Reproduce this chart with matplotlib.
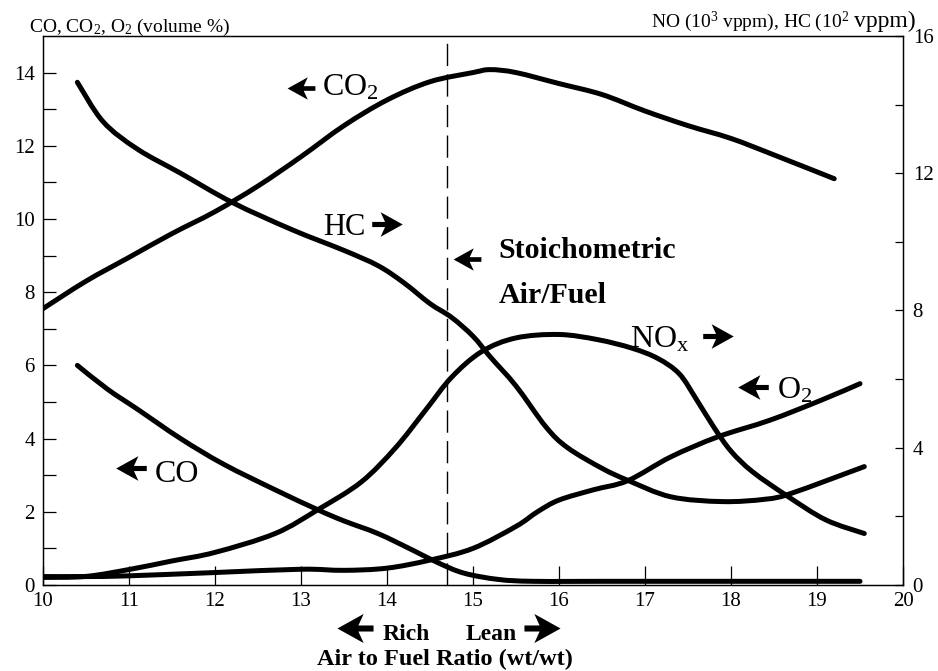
import numpy as np
import matplotlib.pyplot as plt
from matplotlib.path import Path
from matplotlib.patches import PathPatch

plt.rcParams['font.family'] = ['Liberation Serif', 'DejaVu Serif']
plt.rcParams['mathtext.fontset'] = 'custom'
plt.rcParams['mathtext.rm'] = 'Liberation Serif'
plt.rcParams['mathtext.it'] = 'Liberation Serif:italic'
plt.rcParams['mathtext.bf'] = 'Liberation Serif:bold'

# air/fuel ratio vs exhaust composition (left axis: volume %, right axis: vppm)
co2_x = [10.0, 10.5, 11.0, 11.5, 12.0, 12.5, 13.0, 13.5, 14.0, 14.5, 15.0, 15.2, 15.5,
         16.0, 16.5, 17.0, 17.5, 18.0, 18.5, 19.2]
co2_y = [7.55, 8.3, 8.95, 9.6, 10.2, 10.9, 11.7, 12.55, 13.25, 13.75, 14.0, 14.08, 14.0,
         13.7, 13.4, 12.95, 12.55, 12.2, 11.75, 11.1]

co_x = [10.4, 10.75, 11.1, 11.6, 12.1, 12.7, 13.2, 13.5, 13.9, 14.3, 14.6, 14.9, 15.3,
        15.7, 16.5, 19.5]
co_y = [6.0, 5.35, 4.8, 4.0, 3.3, 2.6, 2.05, 1.75, 1.4, 0.95, 0.6, 0.32, 0.15,
        0.1, 0.1, 0.1]

o2_x = [10.0, 10.5, 11.0, 12.0, 13.0, 13.5, 14.0, 14.5, 15.0, 15.5, 15.75, 16.0, 16.4,
        16.8, 17.3, 17.85, 18.45, 19.05, 19.5]
o2_y = [0.23, 0.23, 0.25, 0.34, 0.43, 0.4, 0.46, 0.68, 1.0, 1.6, 2.0, 2.32, 2.6,
        2.85, 3.5, 4.05, 4.5, 5.05, 5.5]

hc_x = [10.4, 10.7, 11.1, 11.6, 12.2, 12.9, 13.5, 13.9, 14.2, 14.5, 14.75, 15.0, 15.2,
        15.5, 15.85, 16.1, 16.5, 16.8, 17.3, 17.9, 18.4, 18.7, 19.55]
hc_y = [14.65, 13.5, 12.7, 12.0, 11.15, 10.35, 9.75, 9.3, 8.8, 8.2, 7.8, 7.25, 6.65,
        5.8, 4.6, 4.0, 3.4, 3.05, 2.57, 2.43, 2.5, 2.67, 3.45]

nox_x = [10.0, 10.5, 11.0, 11.5, 12.0, 12.7, 13.2, 13.7, 14.1, 14.45, 14.75, 15.1, 15.5,
         16.0, 16.45, 16.85, 17.15, 17.4, 17.6, 17.8, 18.0, 18.25, 18.65, 19.1, 19.55]
nox_y = [0.22, 0.25, 0.45, 0.7, 0.95, 1.5, 2.2, 3.0, 4.0, 5.1, 6.05, 6.8, 7.2,
         7.3, 7.15, 6.9, 6.6, 6.15, 5.4, 4.6, 3.9, 3.3, 2.6, 1.9, 1.5]

stoich = 14.7
x_ticks = list(range(10, 21))
left_ticks = [0, 2, 4, 6, 8, 10, 12, 14]
right_ticks = [0, 4, 8, 12, 16]


def smooth_path(xs, ys):
    # Catmull-Rom spline turned into cubic Bezier segments
    p = np.column_stack([xs, ys]).astype(float)
    p = np.vstack([p[0], p, p[-1]])
    verts = [p[1]]
    codes = [Path.MOVETO]
    for i in range(1, len(p) - 2):
        c1 = p[i] + (p[i + 1] - p[i - 1]) / 6.0
        c2 = p[i + 1] - (p[i + 2] - p[i]) / 6.0
        verts += [c1, c2, p[i + 1]]
        codes += [Path.CURVE4] * 3
    return Path(verts, codes)


def curve(ax, xs, ys):
    ax.add_patch(PathPatch(smooth_path(xs, ys), fill=False, lw=3.6, edgecolor='black',
                           capstyle='round', joinstyle='round', zorder=3))


# notched arrow head shape, pointing right
_arrow = np.array([(15.5, 0), (-7, 12.5), (-2.5, 2.6), (-15.5, 2.6), (-15.5, -2.6),
                   (-2.5, -2.6), (-7, -12.5), (15.5, 0)])
ARROW_R = Path(_arrow, [Path.MOVETO] + [Path.LINETO] * 6 + [Path.CLOSEPOLY])
ARROW_L = Path(_arrow * [-1, 1], [Path.MOVETO] + [Path.LINETO] * 6 + [Path.CLOSEPOLY])


def arrow(ax, x, y, direction, size=22):
    ax.plot([x], [y], marker=ARROW_R if direction == 'right' else ARROW_L, ms=size,
            color='black', mew=0, clip_on=False, zorder=4)


fig = plt.figure(figsize=(9.38, 6.71), dpi=100)
ax = fig.add_axes([0.0458, 0.1282, 0.9169, 0.8182])
ax2 = ax.twinx()

ax.set_xlim(10, 20)
ax.set_ylim(0, 15)
ax2.set_ylim(0, 16)

curve(ax, co2_x, co2_y)
curve(ax, co_x, co_y)
curve(ax, o2_x, o2_y)
curve(ax2, hc_x, hc_y)
curve(ax2, nox_x, nox_y)

ax.axvline(stoich, color='black', lw=1, dashes=(16, 6))

ax.set_xticks(x_ticks)
ax.set_xticklabels([str(t) for t in x_ticks])
ax.set_yticks(left_ticks)
ax.set_yticks(range(0, 15), minor=True)
ax2.set_yticks(right_ticks)
ax2.set_yticks(range(0, 17, 2), minor=True)

ax.tick_params(axis='x', direction='in', length=14, width=0.9, labelsize=15, pad=5)
ax.tick_params(axis='y', which='both', direction='in', length=9, width=0.9,
               labelsize=15, pad=6)
ax2.tick_params(axis='y', which='both', direction='in', length=6, width=0.9,
                labelsize=15, pad=7)
ax.tick_params(axis='x', which='minor', bottom=False)
for a in (ax, ax2):
    for s in a.spines.values():
        s.set_linewidth(0.9)

# axis titles
ax.text(9.84, 15.12, 'CO, CO$_2$, O$_2$ (volume %)', fontsize=14, ha='left',
        va='baseline', clip_on=False)
t_unit = ax.text(20.15, 15.25, 'vppm)', fontsize=17, ha='right', va='baseline',
                 clip_on=False)
fig.canvas.draw()
x_join = ax.transData.inverted().transform((t_unit.get_window_extent().x0 - 5, 0))[0]
ax.text(x_join, 15.25, 'NO (10$^3$ vppm), HC (10$^2$', fontsize=14, ha='right',
        va='baseline', clip_on=False)

# curve labels
ax.text(13.25, 13.36, 'CO$_2$', fontsize=23, va='baseline')
arrow(ax, 13.0, 13.58, 'left', 20)
ax.text(13.26, 9.56, 'HC', fontsize=22, va='baseline')
arrow(ax, 14.0, 9.86, 'right')
ax.text(16.83, 6.48, 'NO$_\\mathrm{x}$', fontsize=23, va='baseline')
arrow(ax, 17.85, 6.8, 'right')
ax.text(18.54, 5.1, 'O$_2$', fontsize=23, va='baseline')
arrow(ax, 18.26, 5.41, 'left')
ax.text(11.3, 2.81, 'CO', fontsize=23, va='baseline')
arrow(ax, 11.02, 3.2, 'left')

ax.text(15.3, 8.93, 'Stoichometric', fontsize=21.5, fontweight='bold', va='baseline')
ax.text(15.3, 7.7, 'Air/Fuel', fontsize=21.5, fontweight='bold', va='baseline')
arrow(ax, 14.93, 8.91, 'left', 20)

# x axis caption with rich/lean arrows
ax.text(13.95, -1.5, 'Rich', fontsize=17, fontweight='bold', va='baseline', clip_on=False)
arrow(ax, 13.63, -1.17, 'left', 26)
ax.text(14.91, -1.5, 'Lean', fontsize=17, fontweight='bold', va='baseline', clip_on=False)
arrow(ax, 15.8, -1.17, 'right', 26)
ax.text(14.67, -2.19, 'Air to Fuel Ratio (wt/wt)', fontsize=17.5, fontweight='bold',
        ha='center', va='baseline', clip_on=False)

fig.savefig('out.png', dpi=100)
